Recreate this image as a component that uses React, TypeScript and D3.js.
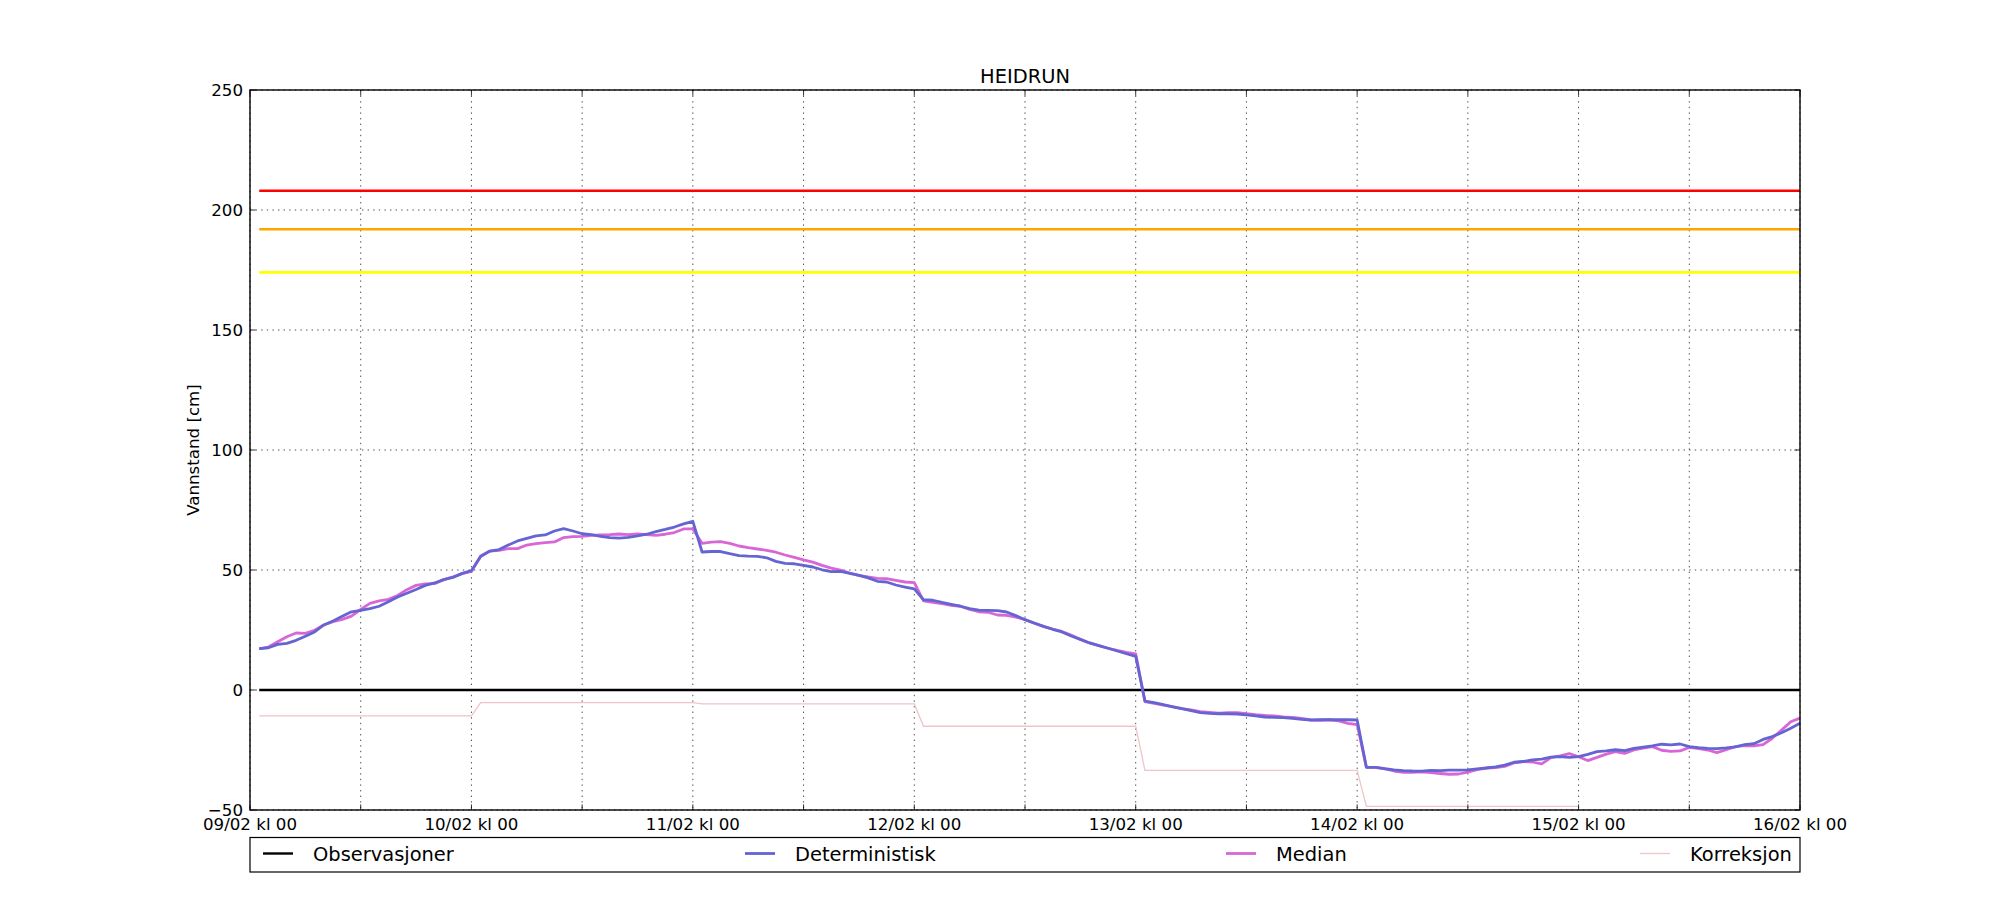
import * as d3 from 'd3'

const title = 'HEIDRUN'
const yLabel = 'Vannstand [cm]'
const startDate = new Date(Date.UTC(2016, 1, 9))
const timeSteps = 168

// hourly values from 09/02 kl 01 to 16/02 kl 00
const deterministisk = [
  17.2, 17.6, 19.0, 19.4, 20.7, 22.4, 24.2, 27.1, 28.75, 30.7, 32.6, 33.2, 33.9, 34.9, 36.8, 38.75, 40.3, 41.9, 43.6, 44.6, 46.0, 46.9, 48.6, 49.7,
  55.6, 57.9, 58.5, 60.4, 62.1, 63.2, 64.2, 64.6, 66.25, 67.2, 66.25, 65.1, 64.7, 64.0, 63.5, 63.3, 63.6, 64.2, 64.9, 66.0, 66.9, 67.9, 69.2, 70.3,
  57.5, 57.7, 57.7, 56.8, 56.0, 55.8, 55.7, 55.1, 53.6, 52.8, 52.6, 51.9, 51.25, 50.1, 49.3, 49.4, 48.6, 47.8, 46.7, 45.3, 45.0, 43.75, 42.9, 42.1,
  37.6, 37.4, 36.5, 35.7, 34.9, 33.9, 33.3, 33.2, 33.1, 32.5, 31.0, 29.3, 27.9, 26.5, 25.3, 24.2, 22.5, 21.1, 19.6, 18.5, 17.4, 16.25, 15.1, 14.0,
  -4.6, -5.3, -6.1, -7.0, -7.8, -8.6, -9.4, -9.7, -9.9, -9.9, -10.0, -10.4, -10.8, -11.25, -11.4, -11.5, -11.8, -12.2, -12.5, -12.4, -12.4, -12.4, -12.4, -12.5,
  -32.2, -32.2, -32.8, -33.3, -33.6, -33.75, -33.8, -33.5, -33.6, -33.4, -33.4, -33.3, -32.9, -32.5, -32.0, -31.3, -30.1, -29.8, -29.1, -28.8, -28.0, -27.8, -28.1, -27.8,
  -26.8, -25.7, -25.4, -24.9, -25.3, -24.3, -23.8, -23.3, -22.6, -22.9, -22.5, -23.6, -24.0, -24.3, -24.4, -24.1, -23.7, -22.8, -22.4, -20.6, -19.4, -17.8, -15.9, -13.9,
]

const median = [
  17.1, 17.9, 20.1, 22.2, 23.75, 23.6, 24.9, 27.1, 28.5, 29.4, 30.8, 33.6, 36.1, 37.1, 37.8, 39.4, 41.8, 43.6, 44.2, 44.3, 46.0, 47.2, 48.5, 49.4,
  55.8, 57.9, 58.2, 58.9, 58.9, 60.4, 61.0, 61.4, 61.7, 63.5, 63.9, 64.0, 64.4, 64.6, 64.7, 65.0, 64.7, 65.0, 64.7, 64.4, 64.9, 65.6, 67.1, 67.1,
  61.1, 61.6, 61.8, 61.1, 60.0, 59.3, 58.75, 58.2, 57.4, 56.25, 55.3, 54.2, 53.3, 51.9, 50.8, 50.0, 48.75, 47.8, 47.1, 46.5, 46.4, 45.7, 45.0, 44.7,
  37.1, 36.5, 36.0, 35.3, 34.9, 33.6, 32.6, 32.4, 31.25, 31.1, 30.4, 29.3, 27.8, 26.5, 25.4, 24.4, 22.9, 21.1, 19.6, 18.5, 17.4, 16.5, 15.7, 15.1,
  -4.8, -5.6, -6.3, -6.9, -7.8, -8.3, -9.0, -9.3, -9.6, -9.4, -9.4, -9.9, -10.3, -10.6, -10.8, -11.25, -11.4, -11.8, -12.5, -12.6, -12.4, -12.9, -13.9, -14.4,
  -32.2, -32.2, -32.9, -33.75, -34.3, -34.3, -34.1, -34.4, -34.8, -35.1, -35.0, -34.2, -33.2, -32.5, -32.3, -31.8, -30.4, -29.8, -30.0, -30.8, -28.2, -27.4, -26.5, -27.8,
  -29.4, -28.1, -26.7, -25.7, -26.4, -25.0, -24.2, -23.6, -25.1, -25.6, -25.4, -23.9, -24.4, -25.0, -26.1, -24.9, -23.6, -23.2, -23.3, -22.8, -20.1, -16.7, -13.2, -11.7,
]

// one correction value per day (09/02 .. 14/02)
const korreksjonPerDag = [-10.8, -5.3, -5.8, -15.1, -33.5, -48.5]
const observasjonsniva = 0
const terskelVerdier = [208, 192, 174]
const terskelFarger = ['#ff0000', '#ffa500', '#ffff00']
const yTicks = [-50, 0, 50, 100, 150, 200, 250]
const legendLabels = ['Observasjoner', 'Deterministisk', 'Median', 'Korreksjon']
const legendColors = ['#000000', '#6464d2', '#d866d6', '#f0c4c8']
const legendWidths = [2.4, 2.8, 2.8, 1.3]
const legendX = [263, 745, 1226, 1640]

const font = '"DejaVu Sans", sans-serif'
const m = { left: 250, right: 1800, top: 90, bottom: 810 }
const hourMs = 3600 * 1000
const t = (h: number) => new Date(startDate.getTime() + h * hourMs)

type Pt = [Date, number]

export default function App() {
  const x = d3.scaleUtc().domain([startDate, t(timeSteps)]).range([m.left, m.right])
  const y = d3.scaleLinear().domain([-50, 250]).range([m.bottom, m.top])
  const line = d3
    .line<Pt>()
    .x((d) => x(d[0]))
    .y((d) => y(d[1]))

  const detPts: Pt[] = deterministisk.map((v, i) => [t(i + 1), v])
  const medPts: Pt[] = median.map((v, i) => [t(i + 1), v])
  const korrPts: Pt[] = korreksjonPerDag.flatMap((v, d) => [
    [t(d * 24 + 1), v],
    [t(d * 24 + 24), v],
  ]) as Pt[]
  const obsPts: Pt[] = [
    [t(1), observasjonsniva],
    [t(timeSteps), observasjonsniva],
  ]

  const xTicks = x.ticks(d3.utcHour.every(12)!)
  const fmt = d3.utcFormat('%d/%m kl %H')
  const yFmt = d3.format('d')
  const tickLen = 5.6

  return (
    <svg
      width={2000}
      height={900}
      style={{ position: 'fixed', left: 0, top: 0, background: '#fff' }}
      fontFamily={font}
    >
      <rect x={0} y={0} width={2000} height={900} fill="#fff" />
      <text x={(m.left + m.right) / 2} y={82.5} fontSize={19.44} textAnchor="middle">
        {title}
      </text>

      {/* grid */}
      <g stroke="#000" strokeWidth={0.7} strokeDasharray="1.4 4.2">
        {xTicks.map((d, i) => (
          <line key={'gx' + i} x1={x(d)} x2={x(d)} y1={m.top} y2={m.bottom} />
        ))}
        {yTicks.map((v) => (
          <line key={'gy' + v} x1={m.left} x2={m.right} y1={y(v)} y2={y(v)} />
        ))}
      </g>

      {/* thresholds */}
      {terskelVerdier.map((v, i) => (
        <line
          key={'t' + v}
          x1={x(t(1))}
          x2={x(t(timeSteps))}
          y1={y(v)}
          y2={y(v)}
          stroke={terskelFarger[i]}
          strokeWidth={2.6}
        />
      ))}

      <path d={line(obsPts)!} fill="none" stroke={legendColors[0]} strokeWidth={legendWidths[0]} />
      <path d={line(korrPts)!} fill="none" stroke={legendColors[3]} strokeWidth={legendWidths[3]} />
      <path
        d={line(medPts)!}
        fill="none"
        stroke={legendColors[2]}
        strokeWidth={legendWidths[2]}
        strokeLinejoin="round"
      />
      <path
        d={line(detPts)!}
        fill="none"
        stroke={legendColors[1]}
        strokeWidth={legendWidths[1]}
        strokeLinejoin="round"
      />

      {/* ticks */}
      <g stroke="#000" strokeWidth={0.8}>
        {xTicks.map((d, i) => (
          <g key={'xt' + i}>
            <line x1={x(d)} x2={x(d)} y1={m.bottom} y2={m.bottom - tickLen} />
            <line x1={x(d)} x2={x(d)} y1={m.top} y2={m.top + tickLen} />
          </g>
        ))}
        {yTicks.map((v) => (
          <g key={'yt' + v}>
            <line x1={m.left} x2={m.left + tickLen} y1={y(v)} y2={y(v)} />
            <line x1={m.right} x2={m.right - tickLen} y1={y(v)} y2={y(v)} />
          </g>
        ))}
      </g>

      {/* frame */}
      <rect
        x={m.left}
        y={m.top}
        width={m.right - m.left}
        height={m.bottom - m.top}
        fill="none"
        stroke="#000"
        strokeWidth={1.4}
      />

      {/* tick labels */}
      <g fontSize={16.67}>
        {xTicks
          .filter((d) => d.getUTCHours() === 0)
          .map((d, i) => (
            <text key={'xl' + i} x={x(d)} y={829.5} textAnchor="middle">
              {fmt(d)}
            </text>
          ))}
        {yTicks.map((v) => (
          <text key={'yl' + v} x={m.left - 7} y={y(v)} dy="0.36em" textAnchor="end">
            {yFmt(v)}
          </text>
        ))}
      </g>

      <text
        transform={`translate(199,${(m.top + m.bottom) / 2}) rotate(-90)`}
        fontSize={16.67}
        textAnchor="middle"
      >
        {yLabel}
      </text>

      {/* legend */}
      <rect x={m.left} y={837.5} width={m.right - m.left} height={34.5} fill="#fff" stroke="#000" strokeWidth={1.2} />
      {legendLabels.map((lab, i) => (
        <g key={lab}>
          <line
            x1={legendX[i]}
            x2={legendX[i] + 30}
            y1={853.5}
            y2={853.5}
            stroke={legendColors[i]}
            strokeWidth={legendWidths[i]}
          />
          <text x={legendX[i] + 50} y={860.5} fontSize={19.44}>
            {lab}
          </text>
        </g>
      ))}
    </svg>
  )
}
